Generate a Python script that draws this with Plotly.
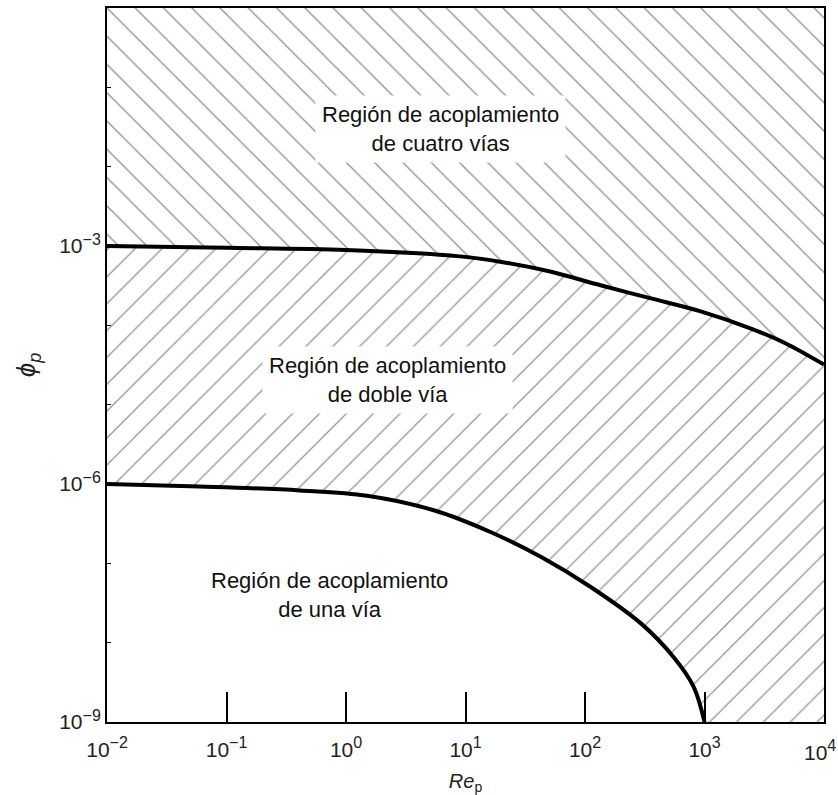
import plotly.graph_objects as go

# Axis extents
re_min, re_max = 1e-2, 1e4
phi_min, phi_max = 1e-9, 1e0

# Boundary between two-way and four-way coupling
re_upper = [1e-2, 1e-1, 1e0, 9e0, 2e1, 5e1, 1.35e2, 3.5e2, 9.3e2, 2.45e3, 4.7e3, 1e4]
phi_upper = [1.0e-3, 9.5e-4, 8.9e-4, 7.4e-4, 6.3e-4, 4.8e-4, 3.2e-4, 2.2e-4,
             1.5e-4, 9.1e-5, 6.0e-5, 3.2e-5]

# Boundary between one-way and two-way coupling
re_lower = [1e-2, 5.9e-2, 4.1e-1, 1.5e0, 5.6e0, 1.6e1, 4.3e1, 1.1e2, 3.0e2, 5.5e2, 8.1e2, 1e3]
phi_lower = [1.0e-6, 9.3e-7, 8.3e-7, 7.1e-7, 4.6e-7, 2.5e-7, 1.2e-7, 5.1e-8,
             1.7e-8, 6.6e-9, 2.8e-9, 1.0e-9]

def pow10(e):
    return f"10<sup><span style='font-size:16px'>{e}</span></sup>"

x_ticks = [1e-2, 1e-1, 1e0, 1e1, 1e2, 1e3, 1e4]
x_ticktext = [pow10("−2"), pow10("−1"), pow10("0"), pow10("1"),
              pow10("2"), pow10("3"), ""]
# the last label sits against the right edge, so it is placed separately
x_last_label = pow10("4")
y_ticks = [1e-9, 1e-8, 1e-7, 1e-6, 1e-5, 1e-4, 1e-3, 1e-2, 1e-1, 1e0]
y_ticktext = [pow10("−9"), "", "", pow10("−6"), "", "",
              pow10("−3"), "", "", ""]

region_labels = ["Región de acoplamiento<br>de cuatro vías",
                 "Región de acoplamiento<br>de doble vía",
                 "Región de acoplamiento<br>de una vía"]
# label centres as log10 values (annotations on log axes use exponents)
label_log_re = [0.79, 0.35, -0.14]
label_log_phi = [-1.52, -4.69, -7.40]

FONT = "Liberation Sans, Arial, sans-serif"
hatch_col = "#2e2e2e"
invisible = dict(width=0, color="rgba(0,0,0,0)")
curve_line = dict(shape="spline", smoothing=1.0)

fig = go.Figure()

# Whole plotting area hatched "/" (two-way region)
fig.add_trace(go.Scatter(x=[re_min, re_max], y=[phi_min, phi_min], mode="lines",
                         line=invisible, hoverinfo="skip", showlegend=False))
fig.add_trace(go.Scatter(x=[re_min, re_max], y=[phi_max, phi_max], mode="lines",
                         line=invisible, fill="tonexty", fillcolor="white",
                         fillpattern=dict(shape="/", size=19, solidity=0.07,
                                          fgcolor=hatch_col, bgcolor="white"),
                         hoverinfo="skip", showlegend=False))

# Four-way region above the upper boundary, hatched "\"
fig.add_trace(go.Scatter(x=[re_min, re_max], y=[phi_max, phi_max], mode="lines",
                         line=invisible, hoverinfo="skip", showlegend=False))
fig.add_trace(go.Scatter(x=re_upper, y=phi_upper, mode="lines",
                         line=dict(width=0, color="rgba(0,0,0,0)", **curve_line),
                         fill="tonexty", fillcolor="white",
                         fillpattern=dict(shape="\\", size=20, solidity=0.07,
                                          fgcolor=hatch_col, bgcolor="white"),
                         hoverinfo="skip", showlegend=False))

# One-way region below the lower boundary, plain white
fig.add_trace(go.Scatter(x=[re_min, re_lower[-1]], y=[phi_min, phi_min], mode="lines",
                         line=invisible, hoverinfo="skip", showlegend=False))
fig.add_trace(go.Scatter(x=re_lower, y=phi_lower, mode="lines",
                         line=dict(width=0, color="rgba(0,0,0,0)", **curve_line),
                         fill="tonexty", fillcolor="white",
                         hoverinfo="skip", showlegend=False))

# Boundary curves
for xs, ys in [(re_upper, phi_upper), (re_lower, phi_lower)]:
    fig.add_trace(go.Scatter(x=xs, y=ys, mode="lines",
                             line=dict(width=4, color="black", **curve_line),
                             hoverinfo="skip", showlegend=False))

for txt, lx, ly in zip(region_labels, label_log_re, label_log_phi):
    fig.add_annotation(x=lx, y=ly, xref="x", yref="y", text=txt, showarrow=False,
                       font=dict(family=FONT, size=22, color="#111"),
                       bgcolor="white", borderpad=6, align="center")

# right-most x tick label, kept inside the page
fig.add_annotation(x=1, y=0, xref="paper", yref="paper", text=x_last_label,
                   showarrow=False, xanchor="right", yanchor="top",
                   xshift=13, yshift=-14, borderpad=0,
                   font=dict(family=FONT, size=21, color="#222"))

fig.update_xaxes(type="log", range=[-2, 4], tickvals=x_ticks, ticktext=x_ticktext,
                 ticks="inside", ticklen=30, tickwidth=1.5, tickcolor="black",
                 showgrid=False, zeroline=False, showline=True, linewidth=2,
                 linecolor="black", mirror=True,
                 ticklabelstandoff=8, automargin=False,
                 tickfont=dict(family=FONT, size=21, color="#222"),
                 title=dict(text="<i>Re</i><sub>p</sub>",
                            font=dict(family=FONT, size=20, color="#222"),
                            standoff=16))
fig.update_yaxes(type="log", range=[-9, 0], tickvals=y_ticks, ticktext=y_ticktext,
                 ticks="inside", ticklen=4, tickwidth=1, tickcolor="black",
                 showgrid=False, zeroline=False, showline=True, linewidth=2,
                 linecolor="black", mirror=True, automargin=False,
                 tickfont=dict(family=FONT, size=21, color="#222"),
                 title=dict(text="<i>ϕ<sub>p</sub></i>",
                            font=dict(family=FONT, size=26, color="#222"),
                            standoff=16))

fig.update_layout(width=838, height=795, plot_bgcolor="white", paper_bgcolor="white",
                  margin=dict(l=107, r=14, t=8, b=73), showlegend=False)

fig.write_html("out.html")
